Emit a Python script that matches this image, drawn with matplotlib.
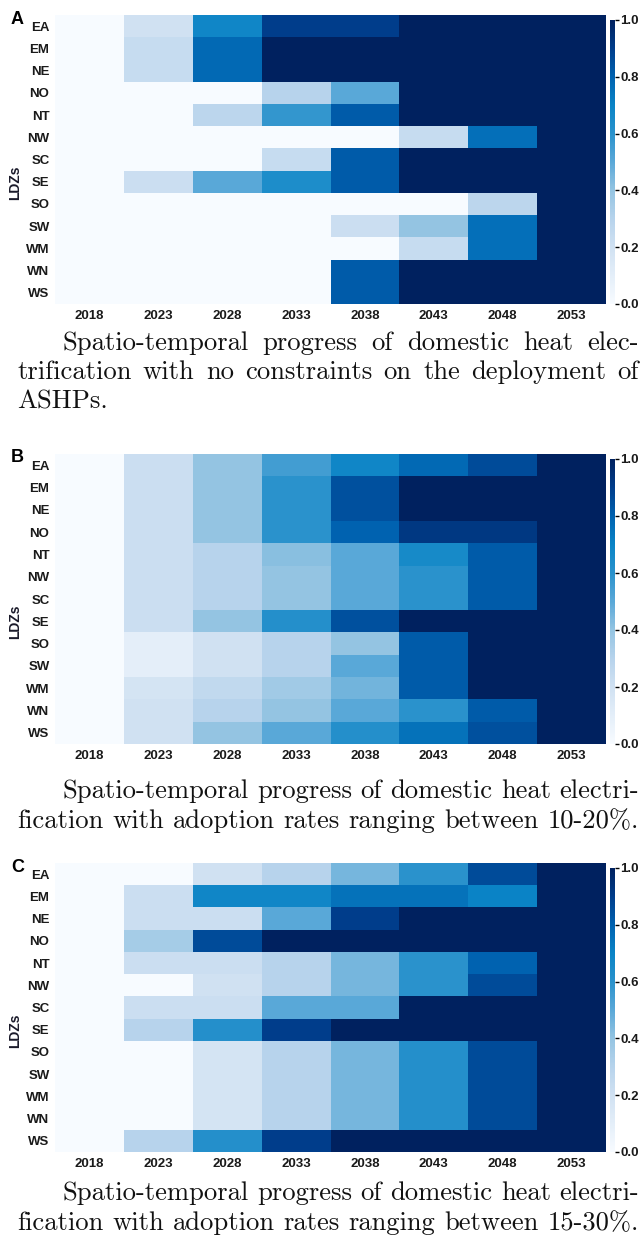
import numpy as np
import matplotlib
matplotlib.use("Agg")
import matplotlib.pyplot as plt
from matplotlib.colors import LinearSegmentedColormap
from matplotlib.font_manager import FontProperties

years = ["2018", "2023", "2028", "2033", "2038", "2043", "2048", "2053"]
ldzs = ["EA", "EM", "NE", "NO", "NT", "NW", "SC", "SE", "SO", "SW", "WM", "WN", "WS"]

values_a = [
    [0, 0.20, 0.68, 0.90, 0.90, 1, 1, 1],
    [0, 0.24, 0.78, 1, 1, 1, 1, 1],
    [0, 0.24, 0.78, 1, 1, 1, 1, 1],
    [0, 0, 0, 0.30, 0.50, 1, 1, 1],
    [0, 0, 0.28, 0.58, 0.82, 1, 1, 1],
    [0, 0, 0, 0, 0, 0.24, 0.76, 1],
    [0, 0, 0, 0.24, 0.82, 1, 1, 1],
    [0, 0.22, 0.50, 0.64, 0.82, 1, 1, 1],
    [0, 0, 0, 0, 0, 0, 0.28, 1],
    [0, 0, 0, 0, 0.22, 0.40, 0.76, 1],
    [0, 0, 0, 0, 0, 0.24, 0.76, 1],
    [0, 0, 0, 0, 0.82, 1, 1, 1],
    [0, 0, 0, 0, 0.82, 1, 1, 1],
]

values_b = [
    [0, 0.22, 0.40, 0.55, 0.68, 0.78, 0.86, 1],
    [0, 0.22, 0.40, 0.60, 0.85, 1, 1, 1],
    [0, 0.22, 0.40, 0.60, 0.85, 1, 1, 1],
    [0, 0.22, 0.40, 0.60, 0.80, 0.92, 0.92, 1],
    [0, 0.22, 0.30, 0.42, 0.50, 0.66, 0.82, 1],
    [0, 0.22, 0.30, 0.40, 0.50, 0.60, 0.82, 1],
    [0, 0.22, 0.30, 0.40, 0.50, 0.60, 0.82, 1],
    [0, 0.22, 0.40, 0.62, 0.85, 1, 1, 1],
    [0, 0.10, 0.20, 0.30, 0.40, 0.82, 1, 1],
    [0, 0.10, 0.20, 0.30, 0.50, 0.82, 1, 1],
    [0, 0.18, 0.26, 0.36, 0.46, 0.82, 1, 1],
    [0, 0.20, 0.30, 0.40, 0.50, 0.60, 0.82, 1],
    [0, 0.20, 0.40, 0.50, 0.62, 0.75, 0.85, 1],
]

values_c = [
    [0, 0, 0.20, 0.30, 0.45, 0.60, 0.86, 1],
    [0, 0.22, 0.68, 0.68, 0.75, 0.75, 0.70, 1],
    [0, 0.22, 0.22, 0.50, 0.90, 1, 1, 1],
    [0, 0.35, 0.86, 1, 1, 1, 1, 1],
    [0, 0.22, 0.22, 0.30, 0.45, 0.60, 0.80, 1],
    [0, 0, 0.20, 0.30, 0.45, 0.60, 0.86, 1],
    [0, 0.22, 0.22, 0.50, 0.50, 1, 1, 1],
    [0, 0.30, 0.62, 0.90, 1, 1, 1, 1],
    [0, 0, 0.18, 0.30, 0.45, 0.62, 0.86, 1],
    [0, 0, 0.18, 0.30, 0.45, 0.62, 0.86, 1],
    [0, 0, 0.18, 0.30, 0.45, 0.62, 0.86, 1],
    [0, 0, 0.18, 0.30, 0.45, 0.62, 0.86, 1],
    [0, 0.30, 0.62, 0.90, 1, 1, 1, 1],
]

captions = [
    ["Spatio-temporal progress of domestic heat elec-",
     "trification with no constraints on the deployment of",
     "ASHPs."],
    ["Spatio-temporal progress of domestic heat electri-",
     "fication with adoption rates ranging between 10-20%."],
    ["Spatio-temporal progress of domestic heat electri-",
     "fication with adoption rates ranging between 15-30%."],
]
panel_letters = ["A", "B", "C"]

cmap = LinearSegmentedColormap.from_list("blues_sat", [
    (0.0, "#f7fbff"), (0.2, "#d0e1f2"), (0.3, "#b6d3ec"), (0.4, "#94c4e2"),
    (0.5, "#5aa8d8"), (0.6, "#2a92cc"), (0.7, "#0a84c6"), (0.8, "#0062b0"),
    (0.9, "#003e8c"), (1.0, "#00215f")])

W, H = 642, 1244
fig = plt.figure(figsize=(W / 100, H / 100), dpi=100)

def fx(px):
    return px / W

def fy(py):
    return 1 - py / H

tick_fp = FontProperties(family="Liberation Sans", weight="bold", size=9.5)

panels = [
    (values_a, 15, 304, [343, 372, 402]),
    (values_b, 454, 744, [791, 821]),
    (values_c, 863, 1152, [1193, 1223]),
]

renderer = fig.canvas.get_renderer()

def text_width(s, size):
    t = fig.text(0, 0, s, family="cmr10", size=size)
    w = t.get_window_extent(renderer=renderer).width
    t.remove()
    return w

TEXT_L, TEXT_R, INDENT = 17, 639, 62
ref_line = captions[2][1]
cap_size = 10 * (TEXT_R - TEXT_L) / text_width(ref_line, 10)

def justify(words_line, left, right, y, justified=True, size=15.5):
    words = words_line.split(" ")
    texts = []
    widths = []
    for w in words:
        t = fig.text(0, fy(y), w, family="cmr10", size=size, va="center",
                     ha="left", color="#111111")
        texts.append(t)
        widths.append(t.get_window_extent(renderer=renderer).width)
    if justified and len(words) > 1:
        gap = (right - left - sum(widths)) / (len(words) - 1)
    else:
        gap = text_width("a a", size) - text_width("aa", size)
    x = left
    for t, wd in zip(texts, widths):
        t.set_x(fx(x))
        x += wd + gap

for i, (vals, top, bot, cap_ys) in enumerate(panels):
    data = np.array(vals, dtype=float)
    ax = fig.add_axes([fx(55), fy(bot), fx(606) - fx(55), fy(top) - fy(bot)])
    mesh = ax.pcolormesh(np.arange(len(years) + 1), np.arange(len(ldzs) + 1), data,
                         cmap=cmap, vmin=0, vmax=1, shading="flat")
    ax.set_xlim(0, len(years))
    ax.set_ylim(len(ldzs), 0)
    ax.set_xticks(np.arange(len(years)) + 0.5)
    ax.set_xticklabels(years)
    ax.set_yticks(np.arange(len(ldzs)) + 0.5)
    ax.set_yticklabels(ldzs)
    for lab in ax.get_xticklabels() + ax.get_yticklabels():
        lab.set_fontproperties(tick_fp)
        lab.set_color("#1a1a1a")
    ax.tick_params(length=0, pad=4)
    for s in ax.spines.values():
        s.set_visible(False)
    ax.set_ylabel("LDZs", fontproperties=FontProperties(family="Liberation Sans",
                  weight="bold", size=10), color="#1a1a2a")
    ax.yaxis.set_label_coords(-0.06, 0.42)

    cax = fig.add_axes([fx(610), fy(bot), fx(615) - fx(610), fy(top + 5) - fy(bot)])
    cb = fig.colorbar(mesh, cax=cax)
    cb.outline.set_visible(False)
    cb.set_ticks([0, 0.2, 0.4, 0.6, 0.8, 1.0])
    cb.set_ticklabels(["0.0", "0.2", "0.4", "0.6", "0.8", "1.0"])
    cax.tick_params(length=3, width=1, pad=1)
    for lab in cax.get_yticklabels():
        lab.set_fontproperties(tick_fp)
        lab.set_color("#1a1a1a")

    fig.text(fx(11), fy(top + 4), panel_letters[i], family="Liberation Sans",
             weight="bold", size=13, va="center", ha="left")

    lines = captions[i]
    for j, (line, cy) in enumerate(zip(lines, cap_ys)):
        left = INDENT if j == 0 else TEXT_L
        is_last = (j == len(lines) - 1) and (i == 0)
        justify(line, left, TEXT_R, cy, justified=not is_last, size=cap_size)

fig.savefig("out.png", dpi=100, facecolor="white")
